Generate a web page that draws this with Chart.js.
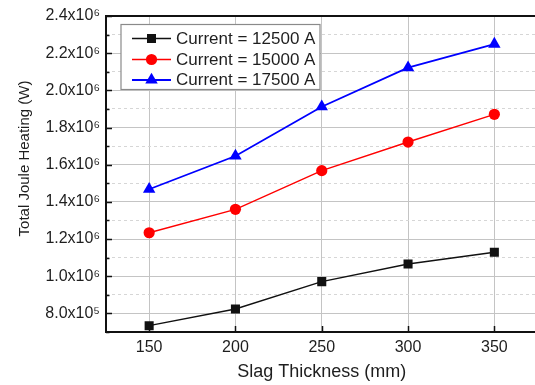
<!DOCTYPE html>
<html>
<head>
<meta charset="utf-8">
<script src="https://cdn.jsdelivr.net/npm/chart.js@4/dist/chart.umd.min.js"></script>
<style>
html,body{margin:0;padding:0;background:#fff;overflow:hidden;}
#wrap{position:relative;width:545px;height:385px;}
</style>
</head>
<body>
<div id="wrap"><canvas id="c" width="545" height="385"></canvas></div>
<script>
const categories = [150, 200, 250, 300, 350];
const current12500 = [7.34e5, 8.24e5, 9.71e5, 1.066e6, 1.129e6];
const current15000 = [1.234e6, 1.360e6, 1.568e6, 1.722e6, 1.871e6];
const current17500 = [1.468e6, 1.647e6, 1.912e6, 2.122e6, 2.249e6];
const seriesLabels = ['Current = 12500 A', 'Current = 15000 A', 'Current = 17500 A'];
const xTickValues = [150, 200, 250, 300, 350];
const yTickValues = [8e5, 1.0e6, 1.2e6, 1.4e6, 1.6e6, 1.8e6, 2.0e6, 2.2e6, 2.4e6];
const yTickLabels = ['8.0x10\u2075', '1.0x10\u2076', '1.2x10\u2076', '1.4x10\u2076', '1.6x10\u2076', '1.8x10\u2076', '2.0x10\u2076', '2.2x10\u2076', '2.4x10\u2076'];
const yMinorTickValues = [7e5, 9e5, 1.1e6, 1.3e6, 1.5e6, 1.7e6, 1.9e6, 2.1e6, 2.3e6];
const xTitle = 'Slag Thickness (mm)';
const yTitle = 'Total Joule Heating (W)';

const FONT = "'Liberation Sans', Arial, sans-serif";
const TXT = '#1e1e1e';

function pts(vals){ return categories.map((x,i)=>({x:x, y:vals[i]})); }
const allYTicks = yTickValues.concat(yMinorTickValues).sort((a,b)=>a-b);
function isMajorY(v){ return yTickValues.some(t=>Math.abs(t-v)<1); }

const styles = [
  {color:'#111111', style:'rect', radius:6.4, width:1.4},
  {color:'#ff0000', style:'circle', radius:5.6, width:1.4},
  {color:'#0000ff', style:'triangle', radius:7.2, width:1.8}
];

const framePlugin = {
  id:'frame',
  beforeDatasetsDraw(chart){
    const {ctx, chartArea:a, scales} = chart;
    ctx.save();
    ctx.strokeStyle = '#111';
    ctx.lineWidth = 1.5;
    ctx.beginPath();
    scales.y.ticks.forEach(t=>{
      const y = Math.round(scales.y.getPixelForValue(t.value))+0.5;
      const len = isMajorY(t.value) ? 6 : 3.5;
      ctx.moveTo(a.left, y); ctx.lineTo(a.left+len, y);
    });
    scales.x.ticks.forEach(t=>{
      const x = Math.round(scales.x.getPixelForValue(t.value))+0.5;
      ctx.moveTo(x, a.bottom); ctx.lineTo(x, a.bottom-6);
    });
    ctx.stroke();
    ctx.lineWidth = 2;
    ctx.strokeRect(a.left, a.top, a.right-a.left, a.bottom-a.top);
    ctx.restore();
  },
  afterDraw(chart){
    const ctx = chart.ctx;
    ctx.save();
    // y axis title
    ctx.translate(25, 158.5);
    ctx.rotate(-Math.PI/2);
    ctx.fillStyle = TXT;
    ctx.font = "15px " + FONT;
    ctx.textAlign = 'center';
    ctx.textBaseline = 'middle';
    ctx.fillText(yTitle, 0, 0);
    ctx.restore();

    ctx.save();
    const bx = 121, by = 24.5, bw = 199, bh = 65;
    ctx.fillStyle = '#fff';
    ctx.fillRect(bx, by, bw, bh);
    ctx.strokeStyle = '#8a8a8a';
    ctx.lineWidth = 1.2;
    ctx.strokeRect(bx, by, bw, bh);
    const rows = [38.5, 59.5, 80];
    chart.data.datasets.forEach((ds,i)=>{
      const st = styles[i];
      const y = rows[i];
      ctx.strokeStyle = st.color; ctx.lineWidth = st.width;
      ctx.beginPath(); ctx.moveTo(132, y); ctx.lineTo(171, y); ctx.stroke();
      ctx.fillStyle = st.color;
      const cx = 151.5, r = st.radius;
      ctx.beginPath();
      if(st.style==='rect'){ const s=r*Math.SQRT1_2; ctx.rect(cx-s,y-s,2*s,2*s); }
      else if(st.style==='circle'){ ctx.arc(cx,y,r,0,Math.PI*2); }
      else { const k=2*Math.PI/3; let rad=0; ctx.moveTo(cx+Math.sin(rad)*r, y-Math.cos(rad)*r); rad+=k; ctx.lineTo(cx+Math.sin(rad)*r, y-Math.cos(rad)*r); rad+=k; ctx.lineTo(cx+Math.sin(rad)*r, y-Math.cos(rad)*r); ctx.closePath(); }
      ctx.fill();
      ctx.fillStyle = TXT;
      ctx.font = "17px " + FONT;
      ctx.textBaseline = 'middle';
      ctx.fillText(ds.label, 176, y+0.5);
    });
    ctx.restore();
  }
};

const datasets = [current12500, current15000, current17500].map((vals,i)=>({
  label: seriesLabels[i],
  data: pts(vals),
  borderColor: styles[i].color,
  backgroundColor: styles[i].color,
  borderWidth: styles[i].width,
  pointStyle: styles[i].style,
  pointRadius: styles[i].radius,
  pointHoverRadius: styles[i].radius,
  pointBorderWidth: 0,
  tension: 0,
  fill: false
}));

new Chart(document.getElementById('c'), {
  type:'line',
  data:{datasets},
  plugins:[framePlugin],
  options:{
    responsive:false,
    animation:false,
    devicePixelRatio:1,
    layout:{padding:{top:16, right:7.5, left:0, bottom:0}},
    plugins:{legend:{display:false}, tooltip:{enabled:false}},
    scales:{
      x:{
        type:'linear', min:125, max:375,
        afterBuildTicks(s){ s.ticks = xTickValues.map(v=>({value:v})); },
        afterFit(s){ s.height = 53; },
        grid:{color:'#c4c4c4', lineWidth:1, drawTicks:false},
        border:{display:false},
        ticks:{color:TXT, font:{family:FONT, size:16}, padding:6, maxRotation:0, callback:(v)=>String(v)},
        title:{display:true, text:xTitle, color:TXT, font:{family:FONT, size:18}, padding:{top:2, bottom:2}}
      },
      y:{
        type:'linear', min:7e5, max:2.4e6,
        afterBuildTicks(s){ s.ticks = allYTicks.map(v=>({value:v})); },
        afterFit(s){ s.width = 106; },
        grid:{color:(c)=> (c.tick && isMajorY(c.tick.value)) ? '#c4c4c4' : '#d6d6d6', lineWidth:1, drawTicks:false},
        border:{display:false, dash:(c)=> (c.tick && !isMajorY(c.tick.value)) ? [3,3] : []},
        ticks:{color:TXT, font:{family:FONT, size:16}, padding:6, autoSkip:false,
          callback:(v)=>{ const i = yTickValues.findIndex(t=>Math.abs(t-v)<1); return i>=0 ? yTickLabels[i] : ''; }},
        title:{display:false}
      }
    }
  }
});
</script>
</body>
</html>
